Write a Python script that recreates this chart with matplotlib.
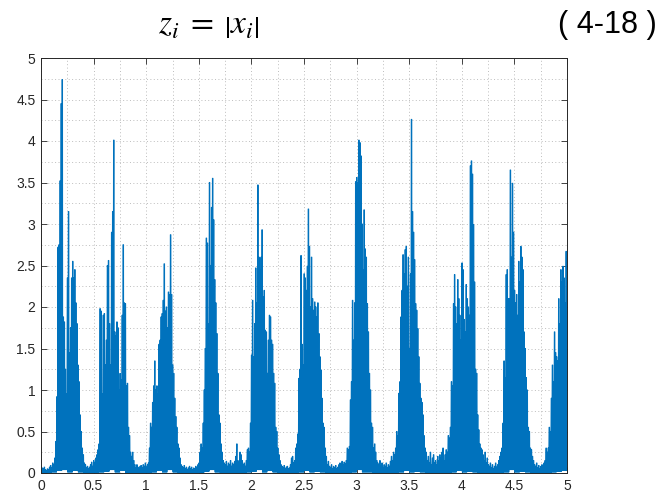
import numpy as np
import matplotlib.pyplot as plt

# peak of z = |x| in each 10 ms bin, one list per second
peaks_0 = [0.08, 0.06, 0.05, 0.07, 0.04, 0.03, 0.05, 0.04, 0.07, 0.09,
           0.06, 0.12, 0.10, 0.18, 0.38, 0.92, 2.72, 2.75, 3.52, 4.45,
           4.74, 1.88, 1.82, 1.25, 0.95, 2.35, 3.15, 1.45, 1.75, 2.35,
           2.55, 2.35, 2.45, 2.05, 1.80, 1.30, 1.10, 0.70, 0.50, 0.30,
           0.22, 0.12, 0.10, 0.06, 0.08, 0.05, 0.07, 0.10, 0.13, 0.08,
           0.15, 0.12, 0.18, 0.22, 0.28, 0.35, 1.98, 1.95, 0.95, 1.90,
           1.92, 1.30, 1.60, 2.50, 2.56, 1.80, 1.30, 2.90, 3.15, 4.01,
           1.70, 1.65, 1.82, 1.75, 1.00, 1.20, 1.12, 1.90, 2.75, 2.05,
           2.04, 1.05, 1.08, 0.55, 0.45, 0.25, 0.20, 0.25, 0.15, 0.10,
           0.06, 0.10, 0.07, 0.05, 0.08, 0.09, 0.06, 0.10, 0.08, 0.12]
peaks_1 = [0.07, 0.10, 0.12, 0.30, 0.60, 0.55, 0.85, 1.05, 1.35, 1.00,
           1.05, 0.95, 1.55, 1.60, 1.88, 1.92, 2.08, 2.52, 1.95, 2.00,
           1.75, 2.18, 2.15, 2.87, 2.15, 1.30, 1.20, 0.90, 0.68, 0.55,
           0.35, 0.30, 0.18, 0.10, 0.08, 0.06, 0.09, 0.05, 0.07, 0.04,
           0.06, 0.08, 0.05, 0.07, 0.04, 0.06, 0.05, 0.08, 0.06, 0.10,
           0.12, 0.25, 0.35, 0.30, 0.60, 1.00, 1.50, 2.83, 2.77, 1.80,
           3.50, 2.50, 3.20, 3.55, 3.05, 2.33, 2.05, 1.68, 1.20, 0.70,
           0.60, 0.35, 0.25, 0.15, 0.12, 0.10, 0.14, 0.08, 0.12, 0.10,
           0.15, 0.08, 0.12, 0.10, 0.14, 0.20, 0.35, 0.15, 0.12, 0.25,
           0.22, 0.15, 0.10, 0.12, 0.08, 0.15, 0.28, 0.30, 0.25, 0.60]
peaks_2 = [1.42, 2.08, 1.40, 1.80, 2.47, 2.05, 3.47, 2.60, 2.45, 2.60,
           2.93, 2.12, 2.20, 1.72, 1.70, 1.20, 1.60, 1.90, 1.88, 1.60,
           1.55, 1.20, 1.08, 0.55, 0.50, 0.30, 0.22, 0.15, 0.10, 0.08,
           0.06, 0.09, 0.05, 0.07, 0.08, 0.05, 0.06, 0.10, 0.18, 0.20,
           0.12, 0.15, 0.30, 0.35, 0.47, 1.14, 1.25, 2.62, 1.55, 1.30,
           2.40, 2.35, 2.20, 2.49, 3.18, 2.73, 2.00, 2.60, 2.10, 1.96,
           2.06, 2.00, 1.88, 2.05, 1.68, 1.40, 1.24, 0.90, 0.60, 0.55,
           0.30, 0.20, 0.10, 0.14, 0.08, 0.06, 0.10, 0.05, 0.08, 0.06,
           0.09, 0.05, 0.07, 0.10, 0.12, 0.08, 0.14, 0.10, 0.13, 0.11,
           0.15, 0.30, 0.28, 0.32, 0.88, 1.10, 2.08, 1.60, 2.05, 3.51]
peaks_3 = [3.56, 3.50, 4.01, 3.98, 3.82, 3.00, 2.45, 3.17, 2.70, 2.60,
           2.04, 1.70, 1.20, 1.00, 0.60, 0.55, 0.30, 0.35, 0.25, 0.15,
           0.12, 0.10, 0.15, 0.08, 0.12, 0.06, 0.10, 0.08, 0.12, 0.06,
           0.10, 0.08, 0.14, 0.20, 0.15, 0.25, 0.22, 0.30, 0.50, 0.45,
           0.96, 1.10, 1.88, 2.20, 2.63, 2.40, 2.69, 2.73, 2.25, 2.60,
           1.50, 2.40, 4.26, 3.15, 2.90, 2.57, 2.04, 1.96, 1.74, 1.40,
           1.08, 0.90, 0.85, 0.70, 0.45, 0.30, 0.25, 0.15, 0.20, 0.12,
           0.25, 0.10, 0.18, 0.22, 0.12, 0.15, 0.10, 0.20, 0.15, 0.22,
           0.18, 0.25, 0.30, 0.15, 0.22, 0.28, 0.25, 0.45, 0.42, 0.55,
           1.10, 1.05, 2.04, 2.39, 2.00, 1.80, 2.33, 2.10, 1.90, 1.60]
peaks_4 = [2.53, 2.45, 1.85, 1.70, 2.27, 2.10, 2.00, 1.90, 3.70, 3.76,
           3.60, 2.99, 2.30, 1.25, 1.20, 0.70, 0.52, 0.35, 0.30, 0.28,
           0.22, 0.15, 0.25, 0.12, 0.18, 0.10, 0.08, 0.12, 0.06, 0.10,
           0.05, 0.08, 0.12, 0.07, 0.10, 0.15, 0.20, 0.25, 0.30, 0.60,
           1.35, 1.15, 2.39, 2.45, 2.10, 2.10, 3.65, 2.60, 3.49, 2.90,
           2.20, 2.05, 2.15, 1.90, 2.55, 2.30, 2.73, 2.60, 2.45, 1.70,
           1.50, 1.15, 1.00, 0.55, 0.50, 0.30, 0.28, 0.20, 0.15, 0.10,
           0.08, 0.12, 0.06, 0.09, 0.05, 0.08, 0.10, 0.06, 0.12, 0.15,
           0.30, 0.25, 0.30, 0.55, 0.50, 0.90, 1.30, 1.10, 1.70, 1.45,
           1.40, 1.35, 2.10, 1.80, 2.45, 2.30, 2.49, 2.35, 2.05, 2.67,
           2.55]

# trough of z in each 50 ms bin
troughs = [0.00, 0.00, 0.01, 0.03, 0.04, 0.01, 0.03, 0.01, 0.00, 0.00,
           0.00, 0.01, 0.02, 0.04, 0.01, 0.03, 0.00, 0.00, 0.00, 0.00,
           0.00, 0.01, 0.03, 0.01, 0.04, 0.01, 0.00, 0.00, 0.00, 0.00,
           0.00, 0.02, 0.04, 0.01, 0.00, 0.00, 0.00, 0.00, 0.00, 0.01,
           0.02, 0.04, 0.01, 0.03, 0.01, 0.00, 0.00, 0.00, 0.00, 0.01,
           0.03, 0.01, 0.02, 0.01, 0.00, 0.00, 0.00, 0.00, 0.00, 0.01,
           0.04, 0.01, 0.01, 0.00, 0.00, 0.00, 0.00, 0.00, 0.01, 0.03,
           0.01, 0.02, 0.01, 0.00, 0.00, 0.00, 0.00, 0.00, 0.01, 0.03,
           0.01, 0.02, 0.01, 0.00, 0.00, 0.00, 0.00, 0.00, 0.01, 0.04,
           0.01, 0.02, 0.01, 0.00, 0.00, 0.00, 0.00, 0.01, 0.02, 0.03,
           0.01]

hi = np.concatenate([peaks_0, peaks_1, peaks_2, peaks_3, peaks_4])
lo = np.repeat(troughs, 5)[:len(hi)]
t_hi = np.arange(len(hi)) * 0.01

# each 10 ms bin: rise to the peak, hold briefly, fall to the trough
t = np.ravel(np.column_stack([t_hi, t_hi + 0.004, t_hi + 0.006]))
z = np.ravel(np.column_stack([hi, hi, lo]))

fig = plt.figure(figsize=(6.62, 4.95), dpi=100)
ax = fig.add_axes([41 / 662, 22 / 495, 526 / 662, 415 / 495])

ax.plot(t, z, color='#0072BD', linewidth=0.8)

ax.set_xlim(0, 5)
ax.set_ylim(0, 5)
ax.set_xticks(np.arange(0, 5.01, 0.5))
ax.set_yticks(np.arange(0, 5.01, 0.5))
ax.set_xticklabels(['0', '0.5', '1', '1.5', '2', '2.5', '3', '3.5', '4', '4.5', '5'])
ax.set_yticklabels(['0', '0.5', '1', '1.5', '2', '2.5', '3', '3.5', '4', '4.5', '5'])
ax.set_xticks(np.arange(0, 5.01, 0.25), minor=True)
ax.set_yticks(np.arange(0, 5.01, 0.25), minor=True)
ax.grid(which='both', linestyle=(0, (1, 2.5)), color='#bdbdbd', linewidth=0.7)
ax.set_axisbelow(True)

ax.tick_params(which='major', direction='in', length=4, width=0.6,
               top=True, right=True, colors='#262626', labelsize=10, pad=4)
ax.tick_params(which='minor', length=0)
for lab in ax.get_xticklabels() + ax.get_yticklabels():
    lab.set_family('Liberation Sans')
for sp in ax.spines.values():
    sp.set_color('#262626')
    sp.set_linewidth(0.7)

plt.rcParams['mathtext.fontset'] = 'stix'
fig.text(209 / 662, 1 - 33 / 495, r'$z_i\;=\;\left|x_i\right|$', fontsize=24,
         ha='center', va='baseline')
fig.text(607 / 662, 1 - 33 / 495, '( 4-18 )', fontsize=22,
         family='Liberation Sans', ha='center', va='baseline')

fig.savefig('out.png', dpi=100)
